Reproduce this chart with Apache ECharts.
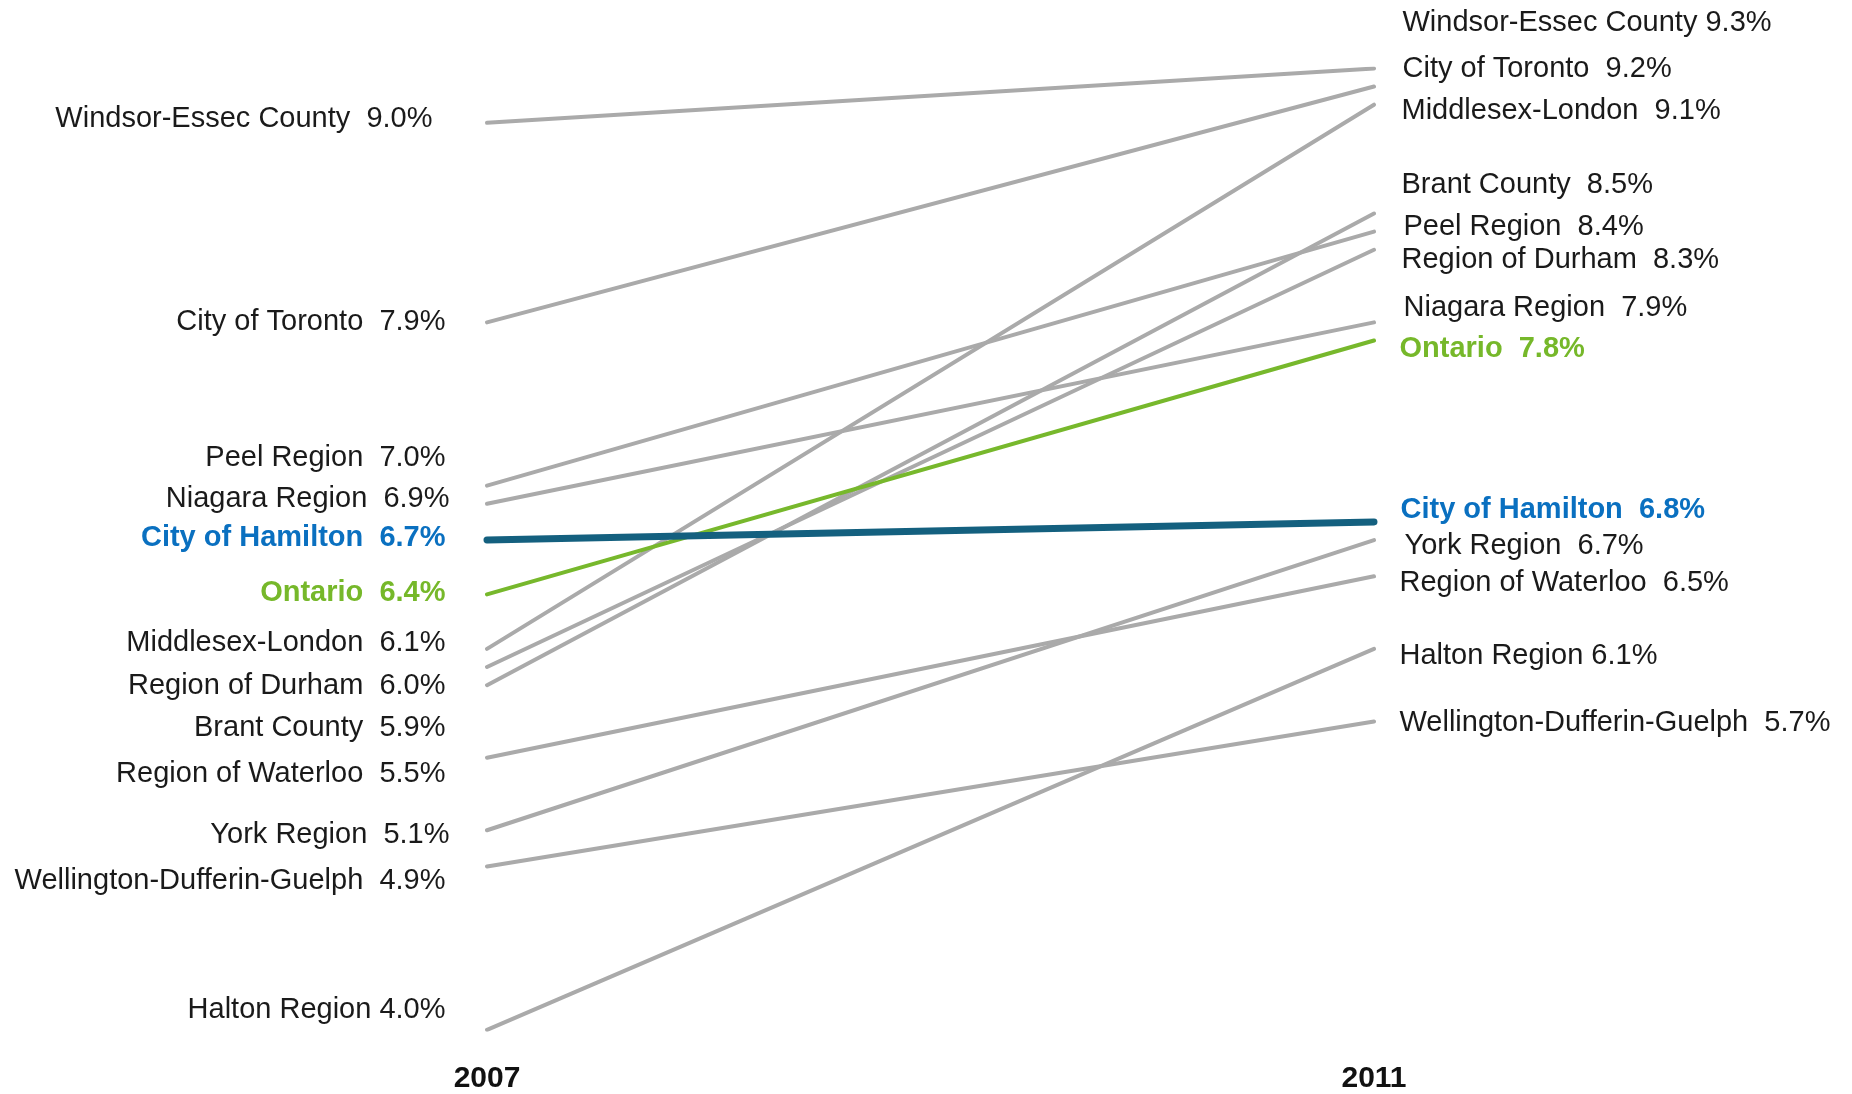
<!DOCTYPE html>
<html>
<head>
<meta charset="utf-8">
<script src="https://cdn.jsdelivr.net/npm/echarts@6/dist/echarts.min.js"></script>
<style>
html,body{margin:0;padding:0;background:#fff;}
#chart{width:1852px;height:1094px;}
</style>
</head>
<body>
<div id="chart"></div>
<script>
// ---- data ----
const years = ['2007', '2011'];
const regions = [
  'Windsor-Essec County', 'City of Toronto', 'Middlesex-London', 'Brant County',
  'Peel Region', 'Region of Durham', 'Niagara Region', 'Ontario',
  'City of Hamilton', 'York Region', 'Region of Waterloo', 'Halton Region',
  'Wellington-Dufferin-Guelph'
];
const rate2007 = [9.0, 7.9, 6.1, 5.9, 7.0, 6.0, 6.9, 6.4, 6.7, 5.1, 5.5, 4.0, 4.9];
const rate2011 = [9.3, 9.2, 9.1, 8.5, 8.4, 8.3, 7.9, 7.8, 6.8, 6.7, 6.5, 6.1, 5.7];

// ---- label text spacing (single space exceptions) ----
const singleSpaceLeft = ['Halton Region'];
const singleSpaceRight = ['Windsor-Essec County', 'Halton Region'];

// ---- styling / label nudges (pixels) ----
const leftNudge = {
  'Windsor-Essec County': [-13, -6], 'City of Toronto': [0, -3], 'Middlesex-London': [0, -8],
  'Brant County': [0, 40], 'Peel Region': [0, -30], 'Region of Durham': [0, 16],
  'Niagara Region': [4, -7], 'Ontario': [0, -4], 'City of Hamilton': [0, -5],
  'York Region': [4, 2], 'Region of Waterloo': [0, 14], 'Halton Region': [0, -22],
  'Wellington-Dufferin-Guelph': [0, 12]
};
const rightNudge = {
  'Windsor-Essec County': [1, -48], 'City of Toronto': [1, -20], 'Middlesex-London': [0, 4],
  'Brant County': [0, -31], 'Peel Region': [2, -7], 'Region of Durham': [0, 8],
  'Niagara Region': [2, -17], 'Ontario': [-2, 6], 'City of Hamilton': [-1, -14],
  'York Region': [3, 3], 'Region of Waterloo': [-2, 4], 'Halton Region': [-2, 5],
  'Wellington-Dufferin-Guelph': [-2, -1]
};
const BASE_DY = 2.5;
const special = {
  'Ontario': { line: '#77b82c', width: 4, text: '#76b82a', bold: true, z: 5 },
  'City of Hamilton': { line: '#14607f', width: 7, text: '#0a70c0', bold: true, z: 6 }
};

const FONT = '"Liberation Sans", Arial, sans-serif';

function fmt(v) { return v.toFixed(1) + '%'; }
function nudge(n) { return [n[0], n[1] + BASE_DY]; }

const series = regions.map((name, i) => {
  const sp = special[name];
  const lineColor = sp ? sp.line : '#aaaaaa';
  const textColor = sp ? sp.text : '#1a1a1a';
  const weight = sp ? 'bold' : 'normal';
  const sepL = singleSpaceLeft.includes(name) ? ' ' : '  ';
  const sepR = singleSpaceRight.includes(name) ? ' ' : '  ';
  const baseLabel = { show: true, fontSize: 29, fontFamily: FONT, color: textColor, fontWeight: weight };
  return {
    type: 'line',
    name: name,
    z: sp ? sp.z : 2,
    symbol: 'circle',
    symbolSize: 1,
    showSymbol: true,
    lineStyle: { color: lineColor, width: sp ? sp.width : 4, cap: 'round' },
    itemStyle: { color: lineColor },
    emphasis: { disabled: true },
    data: [
      {
        value: rate2007[i],
        label: Object.assign({}, baseLabel, {
          position: 'left', distance: 41, align: 'right', verticalAlign: 'middle',
          offset: nudge(leftNudge[name]),
          formatter: name + sepL + fmt(rate2007[i])
        })
      },
      {
        value: rate2011[i],
        label: Object.assign({}, baseLabel, {
          position: 'right', distance: 27, align: 'left', verticalAlign: 'middle',
          offset: nudge(rightNudge[name]),
          formatter: name + sepR + fmt(rate2011[i])
        })
      }
    ]
  };
});

const chart = echarts.init(document.getElementById('chart'), null, { renderer: 'canvas' });
chart.setOption({
  animation: false,
  backgroundColor: '#ffffff',
  grid: { left: 487, right: 478, top: 68.4, bottom: 64.2, containLabel: false },
  xAxis: {
    type: 'category',
    data: years,
    boundaryGap: false,
    axisLine: { show: false },
    axisTick: { show: false },
    splitLine: { show: false },
    axisLabel: {
      margin: 34,
      fontSize: 30,
      fontWeight: 'bold',
      fontFamily: FONT,
      color: '#111111'
    }
  },
  yAxis: {
    type: 'value',
    min: 4.0,
    max: 9.3,
    show: false,
    splitLine: { show: false }
  },
  tooltip: { show: false },
  series: series
});
</script>
</body>
</html>
